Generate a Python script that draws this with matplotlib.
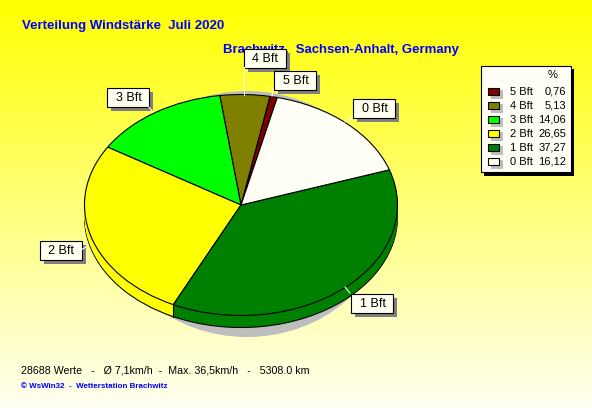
#Verteilung Windstaerke pie chart, WsWin32 look
import numpy as np
import matplotlib
matplotlib.use("Agg")
from matplotlib import pyplot as plt
from matplotlib.patches import Ellipse, Rectangle

plt.rcParams['font.family'] = ['Liberation Sans', 'DejaVu Sans']

labels = ["5 Bft", "4 Bft", "3 Bft", "2 Bft", "1 Bft", "0 Bft"]
values = [0.76, 5.13, 14.06, 26.65, 37.27, 16.12]
value_text = ["0,76", "5,13", "14,06", "26,65", "37,27", "16,12"]
colors = ["#800000", "#808000", "#00FF00", "#FFFF00", "#008000", "#FFFFF5"]

title = "Verteilung Windstärke  Juli 2020"
subtitle = "Brachwitz,  Sachsen-Anhalt, Germany"
stats = "28688 Werte   -   Ø 7,1km/h  -  Max. 36,5km/h   -   5308.0 km"
footer = "© WsWin32  -  Wetterstation Brachwitz"

W, H = 592, 408
cx, cy, rx, ry = 241, 205, 156.5, 110.5
depth = 12
start = 76.6

fig = plt.figure(figsize=(W/100, H/100), dpi=100)

# background + things behind the pie, pixel coordinates
bg = fig.add_axes([0, 0, 1, 1])
grad = np.ones((H, 1, 3))
grad[:, 0, 2] = np.linspace(0, 0.95, H)
bg.imshow(grad, extent=(0, W, H, 0), aspect='auto')
bg.set_xlim(0, W)
bg.set_ylim(H, 0)
bg.axis('off')
bg.text(22, 26, title, color="#0000FF", fontsize=9.55, fontweight='bold', va='center')
bg.text(223, 50, subtitle, color="#0000FF", fontsize=9.45, fontweight='bold', va='center')
bg.text(21, 370.5, stats, color="black", fontsize=7.65, va='center')
bg.text(21, 387, footer, color="#0000FF", fontsize=5.8, fontweight='bold', va='center')
bg.add_patch(Ellipse((247, 214), 280, 246, color="#BEBEBE", lw=0))

# pie, unit circle stretched to the ellipse
ax = fig.add_axes([0, 0, 1, 1])
ax.patch.set_alpha(0)
off = depth / ry
for d in range(depth, 0, -1):
    edge = 'black' if d == depth else 'none'
    ax.pie(values, colors=colors, startangle=start, radius=1, center=(0, -d/ry), frame=False,
           wedgeprops={'linewidth': 0.8 if d == depth else 0, 'edgecolor': edge})
ax.pie(values, colors=colors, startangle=start, radius=1, center=(0, 0), frame=False,
       wedgeprops={'linewidth': 0.8, 'edgecolor': 'black'})
# wall edge where 2 Bft meets 1 Bft
a = np.radians(start + sum(values[:4]) * 3.6)
ax.plot([np.cos(a), np.cos(a)], [np.sin(a), np.sin(a) - off], color='black', lw=0.8)
ax.set_aspect('auto')
ax.set_xlim(-cx/rx, (W-cx)/rx)
ax.set_ylim((cy-H)/ry, cy/ry)
ax.axis('off')

# labels and legend on top, pixel coordinates
top = fig.add_axes([0, 0, 1, 1])
top.patch.set_alpha(0)
top.set_xlim(0, W)
top.set_ylim(H, 0)
top.axis('off')

boxes = {
    "4 Bft": (243.5, 49, (243.5, 67, 243.5, 95)),
    "5 Bft": (273.5, 70.5, (273, 89, 272, 96)),
    "3 Bft": (106.5, 87.5, (148, 106, 153, 112)),
    "0 Bft": (352.5, 98.5, (352, 117, 345, 122)),
    "2 Bft": (39.5, 240.5, (81, 250, 86, 247)),
    "1 Bft": (350.5, 293.5, (350, 293, 345, 287)),
}
for name, (x, y, lead) in boxes.items():
    top.plot(lead[0::2], lead[1::2], color='white', lw=0.8)
    top.add_patch(Rectangle((x+4, y+4), 42, 19, color="#808080", lw=0))
    top.add_patch(Rectangle((x, y), 42, 19, fc="#FFFFF0", ec='black', lw=0.8))
    top.text(x+22, y+10.5, name, fontsize=9, ha='center', va='center', color='black')

top.add_patch(Rectangle((483.5, 68.5), 90.5, 107, color='black', lw=0))
top.add_patch(Rectangle((480.5, 65.5), 90, 106, fc="#FFFFF5", ec='black', lw=0.8))
top.text(553, 75.5, "%", fontsize=8, ha='center', va='center', color='black')
for i, name in enumerate(labels):
    y = 91 + i * 14
    top.add_patch(Rectangle((491, y-1), 12, 9, color="#BEBEBE", lw=0))
    top.add_patch(Rectangle((487.5, y-3.5), 11, 7, fc=colors[i], ec='black', lw=0.8))
    top.text(510, y+0.8, name, fontsize=8, va='center', color='black')
    top.text(566, y+0.8, value_text[i], fontsize=8, ha='right', va='center', color='black')

fig.savefig("out.png", dpi=100)
